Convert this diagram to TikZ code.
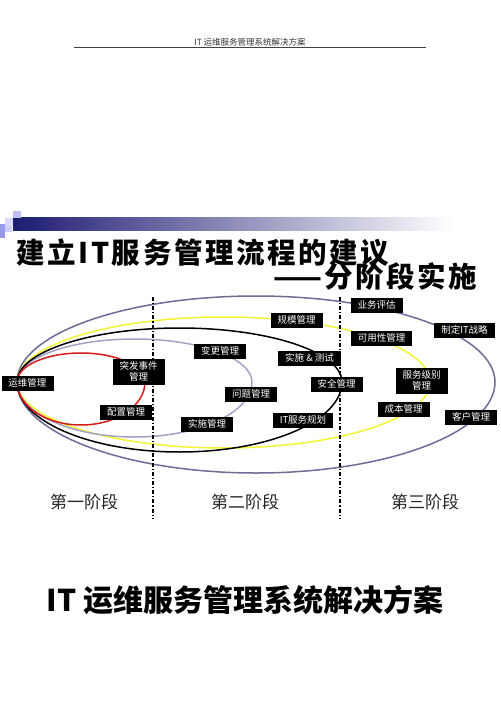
\documentclass[tikz,border=0pt]{standalone}
\usepackage{fontspec}
\setmainfont{Liberation Serif}
\newfontfamily\hei{Noto Sans CJK SC}
\usetikzlibrary{calc}
\definecolor{outerblue}{HTML}{6C6C96}
\definecolor{loopyellow}{HTML}{F4F430}
\definecolor{looplav}{HTML}{A2A2C6}
\definecolor{loopred}{HTML}{D41C1C}
\definecolor{barnavy}{HTML}{1C1C72}
\definecolor{barmid}{HTML}{8484A8}
\tikzset {
    loop line/.style = {line width = 1.5pt},
    stage line/.style = {line width = 1.3pt, dash pattern = on 4pt off 2pt on 1.2pt off 2pt},
    proc/.style = {
        fill = black, 
        text = white, 
        inner xsep = 7pt, 
        inner ysep = 2.5pt,
        text height = 8pt, 
        text depth = 2pt, 
        align = center,
        font = \hei\fontsize{9.5}{11.5}\selectfont
    },
    proc tall/.style = {proc, text height = 19.5pt},
    stage/.style = {font = \hei\fontsize{17}{20}\selectfont, text = black!85},
    %
    title/.style = {font = \hei\bfseries\fontsize{28.5}{32}\selectfont\addfontfeature{LetterSpace = 9}}
}

\begin{document}
\begin{tikzpicture}[x = 1pt, y = -1pt]
    \useasboundingbox (0, 0) rectangle (500, 708);
    % header
    \node [font = \hei\fontsize{8.5}{10}\selectfont, text = black!80] (hdr) at (250, 42) {IT 运维服务管理系统解决方案};
    \coordinate (hl) at (74, 48);
    \coordinate (hr) at (426, 48);
    \draw [black!75, line width = 1pt] (hl) -- (hr);
    % bar
    \shade [left color = barnavy, middle color = barmid, right color = white] (13, 218) rectangle (453, 231);
    \fill [color = black!20!blue!25] (13, 211) rectangle (21, 218);
    \fill [color = black!10!blue!15] (5, 218) rectangle (13, 226);
    \fill [color = black!20!blue!40] (0, 224) rectangle (5, 232);
    \fill [color = black!10!blue!20] (5, 226) rectangle (12, 232);
    \fill [color = black!20!blue!40] (0, 232) rectangle (5, 238);
    \node [title, anchor = west] (title) at (13, 253) {建立IT服务管理流程的建议};
    \node [title, anchor = east] (subtitle) at (481, 277) {——分阶段实施};
    % loops
    \coordinate (lft) at (17, 382);
    \draw [loop line, outerblue] (lft) arc [start angle = 180, end angle = 0, x radius = 239, y radius = 91]
        arc [start angle = 0, end angle = -180, x radius = 239, y radius = 86];
    \draw [loop line, loopyellow] (lft) arc [start angle = 180, end angle = 0, x radius = 206.5, y radius = 66]
        arc [start angle = 0, end angle = -180, x radius = 206.5, y radius = 65];
    \draw [loop line, looplav] (lft) arc [start angle = 180, end angle = 0, x radius = 117.5, y radius = 55]
        arc [start angle = 0, end angle = -180, x radius = 117.5, y radius = 43];
    \draw [loop line, black] (lft) arc [start angle = 180, end angle = 0, x radius = 162.5, y radius = 70]
        arc [start angle = 0, end angle = -180, x radius = 162.5, y radius = 54];
    \draw [loop line, loopred] (lft) arc [start angle = 180, end angle = 0, x radius = 64, y radius = 43]
        arc [start angle = 0, end angle = -180, x radius = 64, y radius = 29];
    % stages
    \coordinate (d1t) at (153, 297);
    \coordinate (d1b) at (153, 518);
    \coordinate (d2t) at (340, 297);
    \coordinate (d2b) at (340, 518);
    \draw [stage line] (d1t) -- (d1b);
    \draw [stage line] (d2t) -- (d2b);
    \node [stage] (st1) at (84, 502) {第一阶段};
    \node [stage] (st2) at (245, 502) {第二阶段};
    \node [stage] (st3) at (425, 502) {第三阶段};
    % processes
    \node [proc] (ywgl) at (27.5, 383.5) {运维管理};
    \node [proc tall] (tfsj) at (138.5, 372) {突发事件\\管理};
    \node [proc] (pzgl) at (126, 412) {配置管理};
    \node [proc] (bggl) at (220, 351.5) {变更管理};
    \node [proc] (wtgl) at (251, 394) {问题管理};
    \node [proc] (ssgl) at (207, 424.5) {实施管理};
    \node [proc] (gmgl) at (296.5, 320.5) {规模管理};
    \node [proc] (sscs) at (309.5, 358) {实施 \& 测试};
    \node [proc] (aqgl) at (336.5, 384) {安全管理};
    \node [proc] (itgh) at (303, 420.5) {IT服务规划};
    \node [proc] (ywpg) at (376.5, 305.5) {业务评估};
    \node [proc] (kyx) at (381.5, 338) {可用性管理};
    \node [proc] (zlzl) at (464.5, 330.5) {制定IT战略};
    \node [proc tall] (fwjb) at (421.5, 381) {服务级别\\管理};
    \node [proc] (cbgl) at (403.5, 409.5) {成本管理};
    \node [proc] (khgl) at (471, 417.5) {客户管理};
    % footer
    \node [font = \hei\bfseries\fontsize{30}{34}\selectfont] (foot) at (245, 600) {IT 运维服务管理系统解决方案};
\end{tikzpicture}
\end{document}
